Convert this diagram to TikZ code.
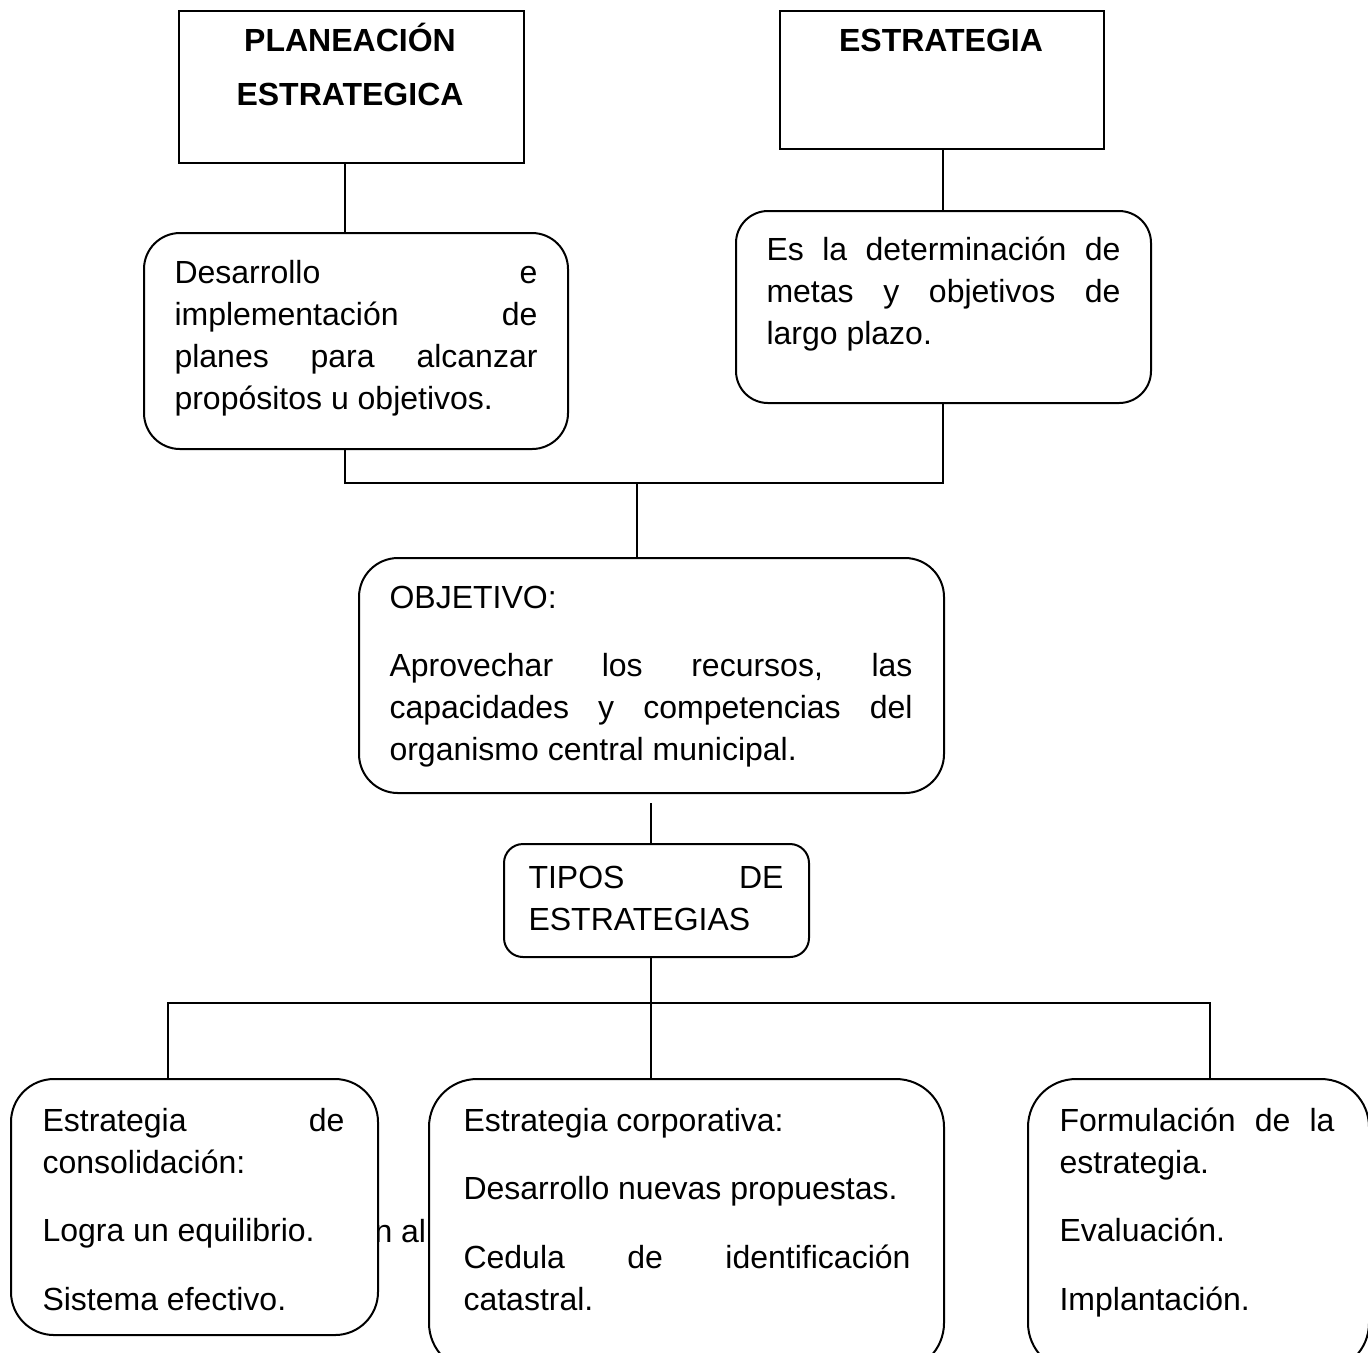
\documentclass[tikz,border=0pt]{standalone}
\usepackage{fontspec}
\setmainfont{Liberation Sans}
\usepackage{tikz}
\usetikzlibrary{calc}

\newcommand{\pxu}{0.375pt}

\tikzset{
  box/.style={draw, line width=0.75pt, fill=white, inner sep=0pt, anchor=north west},
  rbox/.style={box, rounded corners=#1*\pxu},
  txt/.style={anchor=base west, inner sep=0pt, align=justify, font=\fontsize{12}{15.75}\selectfont},
  wire/.style={line width=0.75pt}
}

\begin{document}
\begin{tikzpicture}[x=0.375pt, y=-0.375pt]
  \useasboundingbox (0,0) rectangle (1368,1352);
  \clip (0,0) rectangle (1368,1352);

  % text that sits behind the boxes
  \node (stray) [txt] at (374,1242) {n al};

  % boxes
  \node (plan) [box, minimum width=345*\pxu, minimum height=152*\pxu] at (178,10) {};
  \node (estr) [box, minimum width=324*\pxu, minimum height=138*\pxu] at (779,10) {};
  \node (plan-d) [rbox=36, minimum width=424*\pxu, minimum height=216*\pxu] at (143,232) {};
  \node (estr-d) [rbox=32, minimum width=415*\pxu, minimum height=192*\pxu] at (735,210) {};
  \node (obj) [rbox=39, minimum width=585*\pxu, minimum height=235*\pxu] at (358,557) {};
  \node (tipos) [rbox=19, minimum width=305*\pxu, minimum height=113*\pxu] at (503,843) {};
  \node (g1) [rbox=43, minimum width=367*\pxu, minimum height=256*\pxu] at (10,1078) {};
  \node (g2) [rbox=48, minimum width=515*\pxu, minimum height=292*\pxu] at (428,1078) {};
  \node (g3) [rbox=48, minimum width=341*\pxu, minimum height=292*\pxu] at (1027,1078) {};

  % texts
  \node (plan-t) [txt, anchor=base, align=center, text width=345*\pxu,
    font=\bfseries\fontsize{12}{20.6}\selectfont] at (350,51) {PLANEACIÓN\\ESTRATEGICA};
  \node (estr-t) [txt, anchor=base, align=center, text width=324*\pxu,
    font=\bfseries\fontsize{12}{20.6}\selectfont] at (941,51) {ESTRATEGIA};
  \node (plan-dt) [txt, text width=363*\pxu] at (174,283) {Desarrollo\hfill e\\
    implementación\hfill de\\
    planes\hfill para\hfill alcanzar\\
    propósitos u objetivos.};
  \node (estr-dt) [txt, text width=354*\pxu] at (766,260) {Es\hfill la\hfill determinación\hfill de\\
    metas\hfill y\hfill objetivos\hfill de\\
    largo plazo.};
  \node (obj-t) [txt, text width=523*\pxu] at (389,608) {OBJETIVO:\\[10.1pt]
    Aprovechar\hfill los\hfill recursos,\hfill las\\
    capacidades\hfill y\hfill competencias\hfill del\\
    organismo central municipal.};
  \node (tipos-t) [txt, text width=255*\pxu] at (528,888) {TIPOS\hfill DE\\
    ESTRATEGIAS};
  \node (g1-t) [txt, text width=302*\pxu] at (42,1131) {Estrategia\hfill de\\
    consolidación:\\[10.1pt]
    Logra un equilibrio.\\[10.1pt]
    Sistema efectivo.};
  \node (g2-t) [txt, text width=447*\pxu] at (463,1131) {Estrategia corporativa:\\[10.1pt]
    Desarrollo nuevas propuestas.\\[10.1pt]
    Cedula\hfill de\hfill identificación\\
    catastral.};
  \node (g3-t) [txt, text width=275*\pxu] at (1059,1131) {Formulación\hfill de\hfill la\\
    estrategia.\\[10.1pt]
    Evaluación.\\[10.1pt]
    Implantación.};

  % where the lines run
  \coordinate (jA) at (345,0);
  \coordinate (jB) at (943,0);
  \coordinate (jE) at (637,483);
  \coordinate (jF) at (651,803);
  \coordinate (bL) at (168,1003);
  \coordinate (bR) at (1210,1003);

  \draw[wire] (plan.south -| jA) -- (plan-d.north -| jA);
  \draw[wire] (estr.south -| jB) -- (estr-d.north -| jB);
  \draw[wire] (plan-d.south -| jA) |- (jE) -| (estr-d.south -| jB);
  \draw[wire] (jE) -- (obj.north -| jE);
  \draw[wire] (jF) -- (tipos.north -| jF);
  \draw[wire] (tipos.south -| jF) -- (g2.north -| jF);
  \draw[wire] (g1.north -| bL) -- (bL) -- (bR) -- (g3.north -| bR);
\end{tikzpicture}
\end{document}
